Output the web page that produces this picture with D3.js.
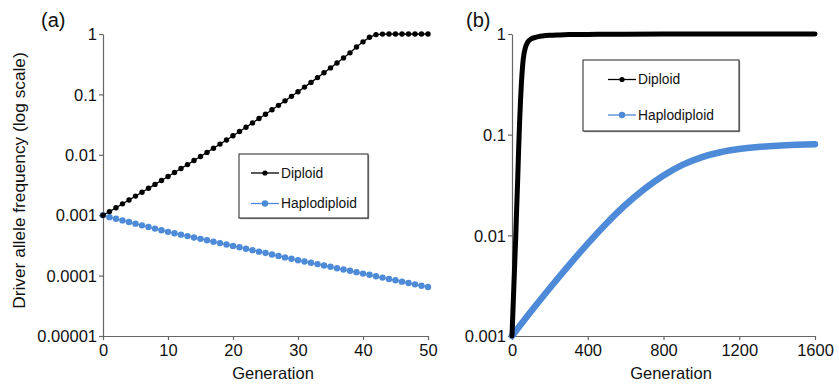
<!DOCTYPE html>
<html>
<head>
<meta charset="utf-8">
<script src="https://cdn.jsdelivr.net/npm/d3@7"></script>
<style>
body { margin: 0; background: #fff; }
svg { display: block; font-family: "Liberation Sans", Arial, sans-serif; }
</style>
</head>
<body>
<script>
/***********************************************************************/
//Data
/***********************************************************************/
const seriesNames = ['Diploid', 'Haplodiploid']

// panel (a): generations 0..50
const gensA = [0, 1, 2, 3, 4, 5, 6, 7, 8, 9, 10, 11, 12, 13, 14, 15, 16, 17, 18, 19, 20,
	21, 22, 23, 24, 25, 26, 27, 28, 29, 30, 31, 32, 33, 34, 35, 36, 37, 38, 39, 40,
	41, 42, 43, 44, 45, 46, 47, 48, 49, 50]

const diploidA = [0.001, 0.001148, 0.00133, 0.001542, 0.001786, 0.00207, 0.002399, 0.002786,
	0.003236, 0.003758, 0.004365, 0.005082, 0.005916, 0.006887, 0.008035, 0.009376, 0.01096,
	0.01282, 0.01503, 0.01762, 0.0207, 0.02432, 0.02864, 0.03373, 0.03981, 0.04699, 0.05559,
	0.06592, 0.07816, 0.0929, 0.1107, 0.1321, 0.1581, 0.1897, 0.228, 0.2748, 0.3319, 0.4018,
	0.4875, 0.6095, 0.7413, 0.881, 0.9772, 0.9954, 1, 1, 1, 1, 1, 1, 1]

const haploA = [0.001, 0.000929, 0.000873, 0.00082, 0.000771, 0.000724, 0.000679, 0.000638,
	0.0006, 0.000564, 0.00053, 0.000502, 0.000476, 0.000451, 0.000428, 0.000406, 0.000385,
	0.000365, 0.000345, 0.000327, 0.00031, 0.000294, 0.000279, 0.000264, 0.000249, 0.000237,
	0.000224, 0.000212, 0.0002, 0.00019, 0.00018, 0.000171, 0.000163, 0.000155, 0.000147,
	0.00014, 0.000132, 0.000126, 0.00012, 0.000114, 0.000108, 0.000103, 0.0000975, 0.0000927,
	0.0000879, 0.0000836, 0.0000794, 0.0000753, 0.0000716, 0.0000679, 0.0000646]

// panel (b): generations 0..1600
const gensBDiploid = [0, 5, 10, 15, 20, 25, 30, 35, 40, 45, 50, 55, 60, 70, 80, 90, 100, 120,
	140, 160, 200, 250, 300, 400, 500, 600, 800, 1000, 1200, 1400, 1600]
const diploidB = [0.001, 0.001778, 0.003162, 0.005623, 0.01, 0.01905, 0.03548, 0.07079, 0.1318,
	0.2188, 0.3311, 0.4571, 0.5754, 0.7244, 0.8128, 0.861, 0.8913, 0.9226, 0.9419, 0.955,
	0.9705, 0.9795, 0.9863, 0.9908, 0.9931, 0.9954, 0.9977, 0.9986, 0.9993, 0.9998, 1]

const gensBHaplo = [0, 100, 200, 300, 400, 500, 600, 700, 800, 900, 1000, 1100, 1200, 1300,
	1400, 1500, 1600]
const haploB = [0.001, 0.00175, 0.002999, 0.005035, 0.008279, 0.01321, 0.02014, 0.02897,
	0.03936, 0.05012, 0.05957, 0.06683, 0.07194, 0.07534, 0.07762, 0.07925, 0.08035]

// tick labels
const yTicksA = ['0.00001', '0.0001', '0.001', '0.01', '0.1', '1']
const xTicksA = ['0', '10', '20', '30', '40', '50']
const yTicksB = ['0.001', '0.01', '0.1', '1']
const xTicksB = ['0', '400', '800', '1200', '1600']

const colors = { Diploid: '#000000', Haplodiploid: '#4d8ad8' }

/***********************************************************************/
//Plot Area
/***********************************************************************/
const width = 839
const height = 384
const fontSize = 16.5

const svg = d3.select('body')
	.append('svg')
	.attr('width', width)
	.attr('height', height)

/***********************************************************************/
//Scale
/***********************************************************************/
const xA = d3.scaleLinear().domain([0, 50]).range([103, 428])
const yA = d3.scaleLog().domain([0.00001, 1]).range([336, 34])

const xB = d3.scaleLinear().domain([0, 1600]).range([512, 815])
const yB = d3.scaleLog().domain([0.001, 1]).range([336, 34])

/***********************************************************************/
//Axes
/***********************************************************************/
function drawAxes(xScale, yScale, xTicks, yTicks) {
	const xAxisG = svg.append('g')
		.attr('transform', 'translate(0,' + yScale.range()[0] + ')')
		.call(d3.axisBottom(xScale)
			.tickValues(xTicks.map(Number))
			.tickFormat((d, i) => xTicks[i])
			.tickSize(4)
			.tickSizeOuter(0)
			.tickPadding(4))

	const yAxisG = svg.append('g')
		.attr('transform', 'translate(' + xScale.range()[0] + ',0)')
		.call(d3.axisLeft(yScale)
			.tickValues(yTicks.map(Number))
			.tickFormat((d, i) => yTicks[i])
			.tickSize(4)
			.tickSizeOuter(0)
			.tickPadding(2))

	;[xAxisG, yAxisG].forEach(ax => {
		ax.attr('font-family', null).attr('font-size', fontSize)
		ax.select('.domain').attr('stroke', '#666').attr('stroke-width', 1.2)
		ax.selectAll('.tick line').attr('stroke', '#666').attr('stroke-width', 1.2)
		ax.selectAll('.tick text').attr('fill', '#111')
	})
	yAxisG.selectAll('.tick text').attr('dy', '0.35em')
}

drawAxes(xA, yA, xTicksA, yTicksA)
drawAxes(xB, yB, xTicksB, yTicksB)

/***********************************************************************/
//Labels
/***********************************************************************/
svg.append('text')
	.attr('transform', 'translate(25,180.5) rotate(-90)')
	.attr('text-anchor', 'middle')
	.attr('font-size', 17.3)
	.attr('fill', '#111')
	.text('Driver allele frequency (log scale)')

svg.append('text').attr('x', 273).attr('y', 379).attr('text-anchor', 'middle')
	.attr('font-size', fontSize).attr('fill', '#111').text('Generation')
svg.append('text').attr('x', 671).attr('y', 379).attr('text-anchor', 'middle')
	.attr('font-size', fontSize).attr('fill', '#111').text('Generation')

svg.append('text').attr('x', 41).attr('y', 27).attr('font-size', 20).attr('fill', '#111').text('(a)')
svg.append('text').attr('x', 466).attr('y', 27).attr('font-size', 20).attr('fill', '#111').text('(b)')

/***********************************************************************/
// Plotting
/***********************************************************************/
// panel (a): thin lines with dot markers
const lineA = d3.line()
	.x(d => xA(d[0]))
	.y(d => yA(d[1]))

const seriesA = [
	{ name: 'Haplodiploid', data: gensA.map((g, i) => [g, haploA[i]]), r: 3.2 },
	{ name: 'Diploid', data: gensA.map((g, i) => [g, diploidA[i]]), r: 2.7 }
]

seriesA.forEach(({ name, data, r }) => {
	svg.append('path')
		.datum(data)
		.attr('fill', 'none')
		.attr('stroke', colors[name])
		.attr('stroke-width', 1.3)
		.attr('d', lineA)

	svg.append('g').selectAll('circle')
		.data(data)
		.join('circle')
		.attr('cx', d => xA(d[0]))
		.attr('cy', d => yA(d[1]))
		.attr('r', r)
		.attr('fill', colors[name])
})

// panel (b): dense markers read as a thick band
const lineB = d3.line()
	.curve(d3.curveMonotoneX)
	.x(d => xB(d[0]))
	.y(d => yB(d[1]))

const seriesB = [
	{ name: 'Haplodiploid', data: gensBHaplo.map((g, i) => [g, haploB[i]]), w: 6.5 },
	{ name: 'Diploid', data: gensBDiploid.map((g, i) => [g, diploidB[i]]), w: 5 }
]

seriesB.forEach(({ name, data, w }) => {
	svg.append('path')
		.datum(data)
		.attr('fill', 'none')
		.attr('stroke', colors[name])
		.attr('stroke-width', w)
		.attr('stroke-linecap', 'round')
		.attr('stroke-linejoin', 'round')
		.attr('d', lineB)
})

/***********************************************************************/
//Legends
/***********************************************************************/
function drawLegend(x, y, w, h, rows) {
	const g = svg.append('g').attr('transform', 'translate(' + x + ',' + y + ')')

	g.append('rect')
		.attr('x', 1.2).attr('y', 1.2)
		.attr('width', w).attr('height', h)
		.attr('fill', '#999')
	g.append('rect')
		.attr('width', w).attr('height', h)
		.attr('fill', '#fff')
		.attr('stroke', '#222')
		.attr('stroke-width', 1)

	rows.forEach(({ dy, sx }, i) => {
		const name = seriesNames[i]
		g.append('line')
			.attr('x1', sx).attr('x2', sx + 28)
			.attr('y1', dy).attr('y2', dy)
			.attr('stroke', colors[name])
			.attr('stroke-width', 1.3)
		g.append('circle')
			.attr('cx', sx + 14).attr('cy', dy)
			.attr('r', i === 0 ? 2.6 : 3.2)
			.attr('fill', colors[name])
		g.append('text')
			.attr('x', sx + 30).attr('y', dy)
			.attr('dy', '0.36em')
			.attr('font-size', 13.8)
			.attr('fill', '#111')
			.text(name)
	})
}

drawLegend(239, 154, 129, 64, [{ dy: 19, sx: 12 }, { dy: 49.5, sx: 12 }])
drawLegend(583, 60, 156, 71, [{ dy: 19.5, sx: 25 }, { dy: 55, sx: 25 }])
</script>
</body>
</html>
